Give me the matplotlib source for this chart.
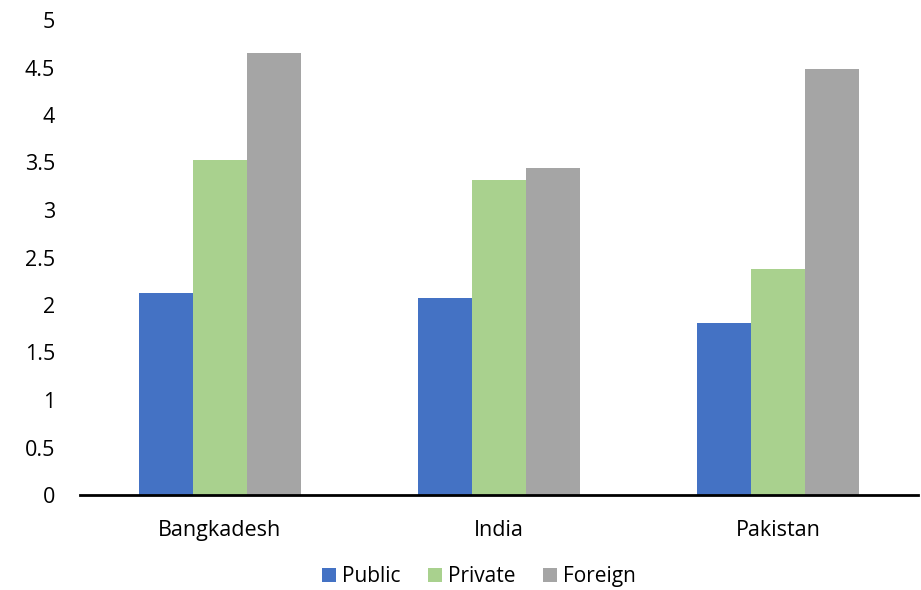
import matplotlib
matplotlib.use("Agg")
import matplotlib.pyplot as plt
import numpy as np

categories = ["Bangkadesh", "India", "Pakistan"]
series = ["Public", "Private", "Foreign"]
public = [2.13, 2.07, 1.81]
private = [3.53, 3.32, 2.38]
foreign = [4.65, 3.44, 4.48]
colors = ["#4472C4", "#A9D18E", "#A5A5A5"]
yticks = [0, 0.5, 1, 1.5, 2, 2.5, 3, 3.5, 4, 4.5, 5]
ytick_labels = ["0", "0.5", "1", "1.5", "2", "2.5", "3", "3.5", "4", "4.5", "5"]

plt.rcParams['font.family'] = ['Open Sans', 'DejaVu Sans']

fig = plt.figure(figsize=(9.21, 5.9), dpi=100)
ax = fig.add_axes([80/921, 1-495/590, 838/921, 475/590])

x = np.arange(len(categories))
w = 0.193
for i, (vals, name) in enumerate(zip([public, private, foreign], series)):
    ax.bar(x + (i - 1) * w, vals, width=w, color=colors[i], label=name, zorder=2)

fs = 15.5
ax.set_xlim(-0.5, 2.5)
ax.set_ylim(0, 5)
ax.set_yticks(yticks)
ax.set_yticklabels(ytick_labels, fontsize=fs)
ax.set_xticks(x)
ax.set_xticklabels(categories, fontsize=fs)
ax.tick_params(axis='y', length=0, pad=18)
ax.tick_params(axis='x', length=0, pad=18)
for s in ["top", "right", "left"]:
    ax.spines[s].set_visible(False)
ax.spines["bottom"].set_linewidth(2)
ax.spines["bottom"].set_color("black")
ax.spines["bottom"].set_zorder(3)

leg = fig.legend(loc="lower center", bbox_to_anchor=(0.52, -0.027), ncol=3, frameon=False,
                 fontsize=15, handlelength=0.68, handleheight=0.68, handletextpad=0.3,
                 columnspacing=1.3)

fig.savefig("out.png", dpi=100)
